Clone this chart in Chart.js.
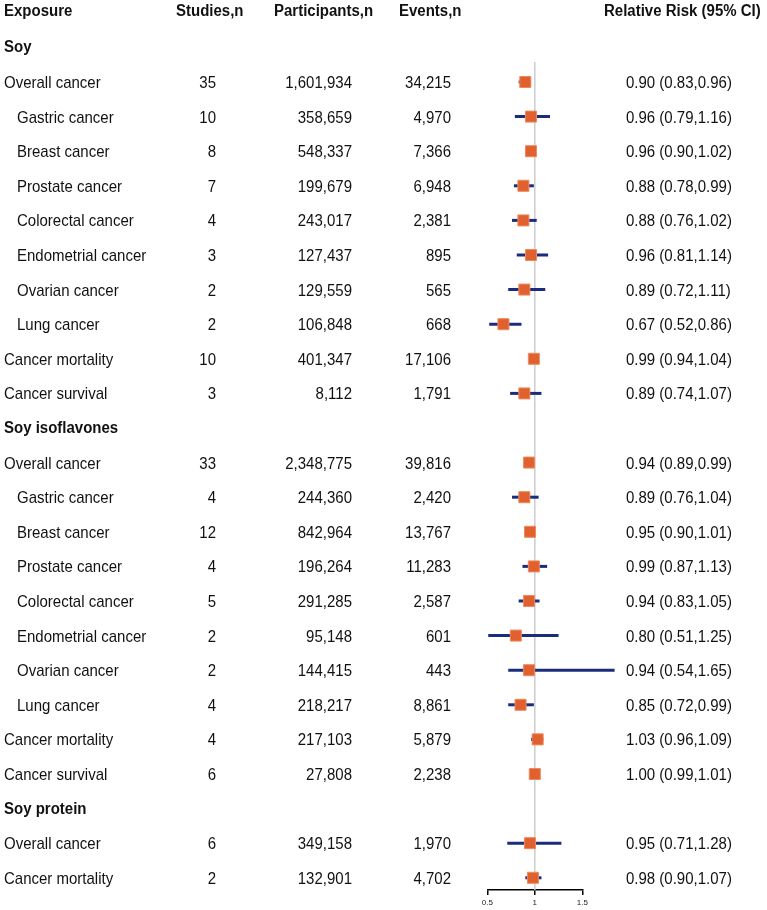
<!DOCTYPE html>
<html lang="en">

<head>
    <meta charset="UTF-8">
    <title>Soy and cancer forest plot</title>
    <script src="https://cdn.jsdelivr.net/npm/chart.js"></script>
    <style>
        body { margin: 0; background: #fff; overflow: hidden; }
        #wrap { position: relative; width: 767px; height: 910px; font-family: "Liberation Sans", Arial, sans-serif; font-size: 15px; color: #111; }
        #forest { position: absolute; left: 0; top: 0; }
        .cell { position: absolute; line-height: 20px; white-space: nowrap; transform: scaleY(1.12); }
        .bold { font-weight: bold; transform: scaleY(1.04); }
    </style>
</head>

<body>
    <div id="wrap">
        <canvas id="forest" width="767" height="910"></canvas>
    </div>

    <script>
        // table rows, top to bottom
        var exposures = ['Soy', 'Overall cancer', 'Gastric cancer', 'Breast cancer', 'Prostate cancer', 'Colorectal cancer',
            'Endometrial cancer', 'Ovarian cancer', 'Lung cancer', 'Cancer mortality', 'Cancer survival',
            'Soy isoflavones', 'Overall cancer', 'Gastric cancer', 'Breast cancer', 'Prostate cancer', 'Colorectal cancer',
            'Endometrial cancer', 'Ovarian cancer', 'Lung cancer', 'Cancer mortality', 'Cancer survival',
            'Soy protein', 'Overall cancer', 'Cancer mortality'];
        var groupRows = [0, 11, 22];
        var subRows = [2, 3, 4, 5, 6, 7, 8, 13, 14, 15, 16, 17, 18, 19];

        var studies = ['', '35', '10', '8', '7', '4', '3', '2', '2', '10', '3',
            '', '33', '4', '12', '4', '5', '2', '2', '4', '4', '6',
            '', '6', '2'];
        var participants = ['', '1,601,934', '358,659', '548,337', '199,679', '243,017', '127,437', '129,559', '106,848', '401,347', '8,112',
            '', '2,348,775', '244,360', '842,964', '196,264', '291,285', '95,148', '144,415', '218,217', '217,103', '27,808',
            '', '349,158', '132,901'];
        var events = ['', '34,215', '4,970', '7,366', '6,948', '2,381', '895', '565', '668', '17,106', '1,791',
            '', '39,816', '2,420', '13,767', '11,283', '2,587', '601', '443', '8,861', '5,879', '2,238',
            '', '1,970', '4,702'];
        var rrText = ['', '0.90 (0.83,0.96)', '0.96 (0.79,1.16)', '0.96 (0.90,1.02)', '0.88 (0.78,0.99)', '0.88 (0.76,1.02)',
            '0.96 (0.81,1.14)', '0.89 (0.72,1.11)', '0.67 (0.52,0.86)', '0.99 (0.94,1.04)', '0.89 (0.74,1.07)',
            '', '0.94 (0.89,0.99)', '0.89 (0.76,1.04)', '0.95 (0.90,1.01)', '0.99 (0.87,1.13)', '0.94 (0.83,1.05)',
            '0.80 (0.51,1.25)', '0.94 (0.54,1.65)', '0.85 (0.72,0.99)', '1.03 (0.96,1.09)', '1.00 (0.99,1.01)',
            '', '0.95 (0.71,1.28)', '0.98 (0.90,1.07)'];

        // plotted estimates (as drawn in the figure)
        var rr = [null, 0.90, 0.96, 0.96, 0.88, 0.88, 0.96, 0.89, 0.67, 0.99, 0.89,
            null, 0.94, 0.89, 0.95, 0.99, 0.94, 0.80, 0.94, 0.85, 1.03, 1.00,
            null, 0.95, 0.98];
        var lower = [null, 0.83, 0.79, 0.90, 0.78, 0.76, 0.81, 0.72, 0.52, 0.94, 0.74,
            null, 0.89, 0.76, 0.90, 0.87, 0.83, 0.51, 0.72, 0.72, 0.96, 0.99,
            null, 0.71, 0.90];
        var upper = [null, 0.96, 1.16, 1.02, 0.99, 1.02, 1.14, 1.11, 0.86, 1.04, 1.07,
            null, 0.99, 1.04, 1.01, 1.13, 1.05, 1.25, 1.84, 0.99, 1.09, 1.01,
            null, 1.28, 1.07];

        var xTicks = [0.5, 1, 1.5];

        var headers = [
            { text: 'Exposure', left: 4 },
            { text: 'Studies,n', left: 176 },
            { text: 'Participants,n', left: 274 },
            { text: 'Events,n', left: 399 },
            { text: 'Relative Risk (95% CI)', left: 604 }
        ];

        var datasets = [];

        // squares
        var points = [];
        rr.forEach(function (v, i) {
            if (v !== null) points.push({ x: v, y: i });
        });
        datasets.push({
            data: points,
            order: 0,
            pointStyle: 'rect',
            pointRadius: 7.8,
            backgroundColor: '#E0612D',
            borderColor: '#EE8A62',
            borderWidth: 1
        });

        // confidence interval lines
        rr.forEach(function (v, i) {
            if (v === null) return;
            datasets.push({
                data: [{ x: lower[i], y: i }, { x: upper[i], y: i }],
                order: 1,
                showLine: true,
                clip: false,
                pointRadius: 0,
                borderColor: '#1C2C7C',
                borderWidth: 3
            });
        });

        // line of no effect
        datasets.push({
            data: [{ x: 1, y: 0.42 }, { x: 1, y: 24.353 }],
            order: 2,
            showLine: true,
            clip: false,
            pointRadius: 0,
            borderColor: '#CDCDCD',
            borderWidth: 1.5
        });

        var ctx = document.getElementById('forest').getContext('2d');
        var chart = new Chart(ctx, {
            type: 'scatter',
            data: { datasets: datasets },
            options: {
                responsive: false,
                animation: false,
                events: [],
                layout: { padding: { left: 487.3, right: 184.7, top: 12.8, bottom: 0 } },
                plugins: { legend: { display: false }, tooltip: { enabled: false } },
                scales: {
                    x: {
                        type: 'linear',
                        min: 0.5,
                        max: 1.5,
                        afterBuildTicks: function (scale) {
                            scale.ticks = xTicks.map(function (v) { return { value: v }; });
                        },
                        afterFit: function (scale) { scale.height = 20; },
                        border: { display: true, color: '#000', width: 1.5 },
                        grid: { drawOnChartArea: false, drawTicks: true, tickLength: 5, color: '#000', lineWidth: 1.5 },
                        ticks: {
                            padding: 3,
                            color: '#222',
                            font: { size: 8, family: '"Liberation Sans", Arial' },
                            maxRotation: 0,
                            callback: function (v) { return String(v); }
                        }
                    },
                    y: {
                        type: 'linear',
                        display: false,
                        reverse: true,
                        min: -1,
                        max: 24.353
                    }
                }
            }
        });

        // text columns, placed on the chart's row scale
        var wrap = document.getElementById('wrap');
        var yScale = chart.scales.y;

        function addCell(text, y, opts) {
            if (!text) return;
            var d = document.createElement('div');
            d.className = 'cell' + (opts.bold ? ' bold' : '');
            d.textContent = text;
            d.style.top = (y - 10) + 'px';
            if (opts.right !== undefined) d.style.right = (767 - opts.right) + 'px';
            else d.style.left = opts.left + 'px';
            wrap.appendChild(d);
        }

        var headerY = yScale.getPixelForValue(-1.05);
        headers.forEach(function (h) {
            addCell(h.text, headerY, { left: h.left, bold: true });
        });

        exposures.forEach(function (name, i) {
            var y = yScale.getPixelForValue(i);
            var isGroup = groupRows.indexOf(i) >= 0;
            var isSub = subRows.indexOf(i) >= 0;
            addCell(name, y, { left: isSub ? 17 : 4, bold: isGroup });
            addCell(studies[i], y, { right: 216 });
            addCell(participants[i], y, { right: 352 });
            addCell(events[i], y, { right: 451 });
            addCell(rrText[i], y, { left: 626 });
        });
    </script>
</body>

</html>
